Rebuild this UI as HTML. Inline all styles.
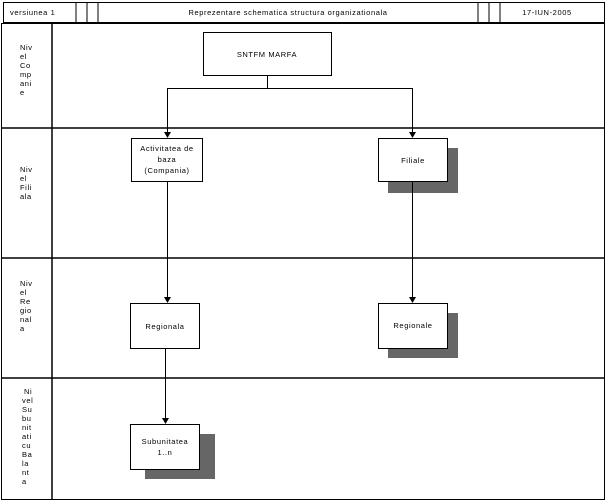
<!DOCTYPE html>
<html><head><style>
html,body{margin:0;padding:0;background:#fff;width:608px;height:502px;overflow:hidden}
svg{display:block}
text{font-family:"Liberation Sans",sans-serif;font-size:7.5px;fill:#000;letter-spacing:0.6px}
</style></head><body>
<svg width="608" height="502" viewBox="0 0 608 502">
<g stroke="#000" fill="none">
<rect x="3.5" y="2.5" width="601" height="20" stroke-width="1"/>
<line x1="76" y1="2" x2="76" y2="23"/><line x1="87" y1="2" x2="87" y2="23"/><line x1="98" y1="2" x2="98" y2="23"/>
<line x1="478" y1="2" x2="478" y2="23"/><line x1="489" y1="2" x2="489" y2="23"/><line x1="500" y1="2" x2="500" y2="23"/>
<line x1="3" y1="23" x2="605" y2="23" stroke-width="2"/>
<rect x="1.5" y="23.5" width="603" height="476"/>
<line x1="52" y1="23" x2="52" y2="500" stroke-width="1.5"/>
<line x1="1" y1="128" x2="605" y2="128" stroke-width="1.5"/>
<line x1="1" y1="258" x2="605" y2="258" stroke-width="1.5"/>
<line x1="1" y1="378" x2="605" y2="378" stroke-width="1.5"/>
</g>
<g fill="#666">
<rect x="388" y="148" width="70" height="45"/>
<rect x="388" y="313" width="70" height="45"/>
<rect x="145" y="434" width="70" height="45"/>
</g>
<g stroke="#000" fill="#fff">
<rect x="203.5" y="32.5" width="128" height="43"/>
<rect x="131.5" y="138.5" width="71" height="43"/>
<rect x="378.5" y="138.5" width="69" height="43"/>
<rect x="130.5" y="303.5" width="69" height="45"/>
<rect x="378.5" y="303.5" width="69" height="45"/>
<rect x="130.5" y="424.5" width="69" height="45"/>
</g>
<g stroke="#000" fill="none">
<polyline points="267.5,76 267.5,88.5 167.5,88.5 167.5,134"/>
<polyline points="267.5,88.5 412.5,88.5 412.5,134"/>
<line x1="167.5" y1="182" x2="167.5" y2="299"/>
<line x1="412.5" y1="182" x2="412.5" y2="299"/>
<line x1="165.5" y1="349" x2="165.5" y2="420"/>
</g>
<g fill="#000">
<polygon points="164,132 171,132 167.5,138"/>
<polygon points="409,132 416,132 412.5,138"/>
<polygon points="164,297 171,297 167.5,303"/>
<polygon points="409,297 416,297 412.5,303"/>
<polygon points="162,418 169,418 165.5,424"/>
</g>
<text x="10" y="15">versiunea 1</text>
<text x="288" y="15" text-anchor="middle">Reprezentare schematica structura organizationala</text>
<text x="547" y="15" text-anchor="middle">17-IUN-2005</text>
<text x="267" y="57" text-anchor="middle">SNTFM MARFA</text>
<text x="167" y="151" text-anchor="middle">Activitatea de</text>
<text x="167" y="162" text-anchor="middle">baza</text>
<text x="167" y="173" text-anchor="middle">(Compania)</text>
<text x="413" y="163" text-anchor="middle">Filiale</text>
<text x="165" y="329" text-anchor="middle">Regionala</text>
<text x="413" y="328" text-anchor="middle">Regionale</text>
<text x="165" y="444" text-anchor="middle">Subunitatea</text>
<text x="165" y="455" text-anchor="middle">1..n</text>
<g>
<text x="20" y="50">Niv</text><text x="20" y="59">el</text><text x="20" y="68">Co</text><text x="20" y="77">mp</text><text x="20" y="86">ani</text><text x="20" y="95">e</text>
<text x="20" y="172">Niv</text><text x="20" y="181">el</text><text x="20" y="190">Fili</text><text x="20" y="199">ala</text>
<text x="20" y="286">Niv</text><text x="20" y="295">el</text><text x="20" y="304">Re</text><text x="20" y="313">gio</text><text x="20" y="322">nal</text><text x="20" y="331">a</text>
<text x="24" y="394">Ni</text><text x="22" y="403">vel</text><text x="22" y="412">Su</text><text x="22" y="421">bu</text><text x="22" y="430">nit</text><text x="22" y="439">ati</text><text x="22" y="448">cu</text><text x="22" y="457">Ba</text><text x="22" y="466">la</text><text x="22" y="475">nt</text><text x="22" y="484">a</text>
</g>
</svg>
</body></html>
